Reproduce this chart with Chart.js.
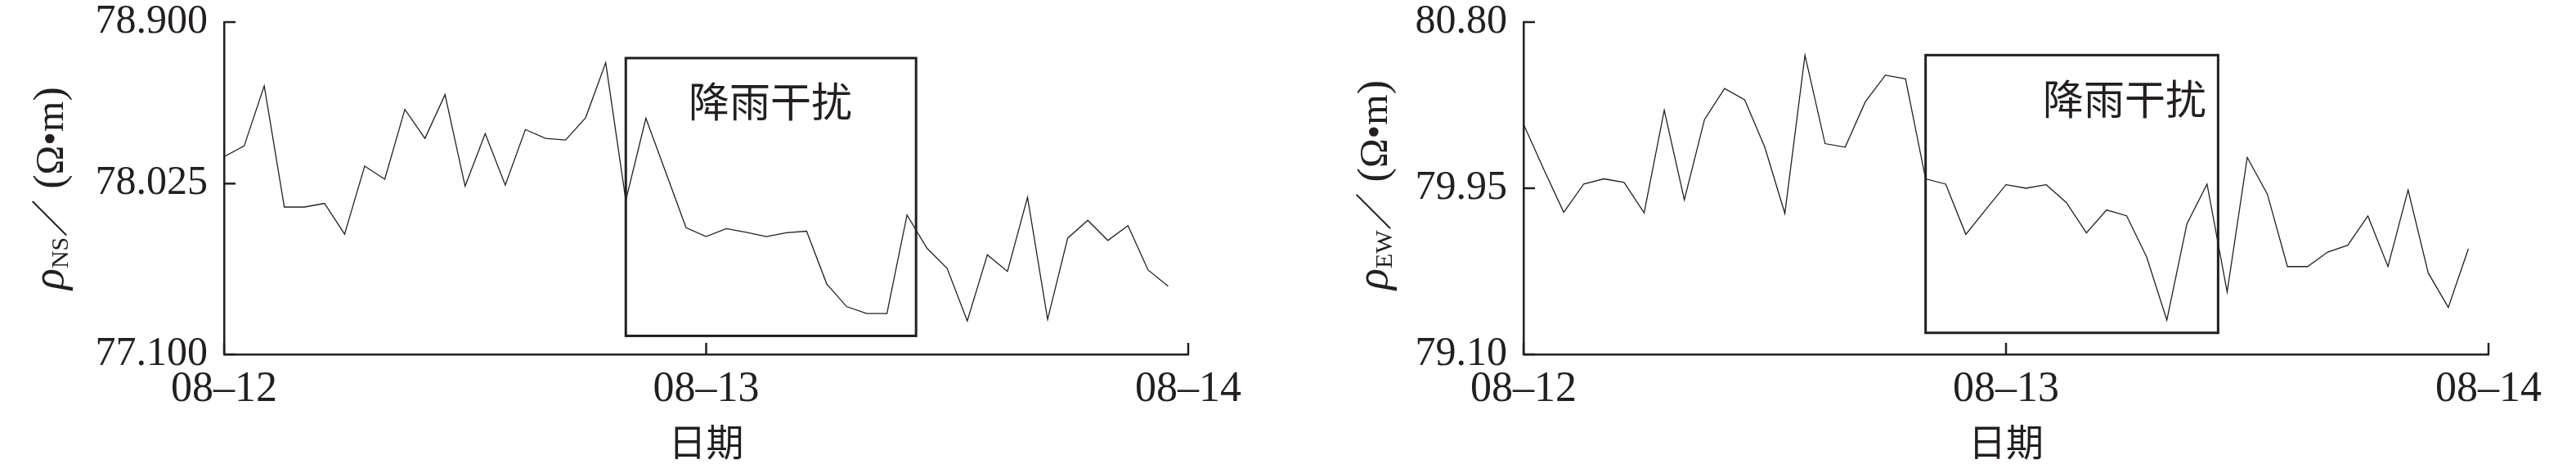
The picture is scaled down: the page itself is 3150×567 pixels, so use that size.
<!DOCTYPE html>
<html><head><meta charset="utf-8">
<script src="https://cdn.jsdelivr.net/npm/chart.js@4.4.0/dist/chart.umd.min.js"></script>
<style>
html,body{margin:0;padding:0;background:#fff;}
#wrap{position:relative;width:3150px;height:567px;background:#fff;}
.c{position:absolute;top:0;width:1575px;height:567px;}
</style></head><body>
<div id="wrap">
<div class="c" style="left:0"><canvas id="ns" width="1575" height="567"></canvas></div>
<div class="c" style="left:1575px"><canvas id="ew" width="1575" height="567"></canvas></div>
</div>
<script>
// ---- data ----
const hours = [0,1,2,3,4,5,6,7,8,9,10,11,12,13,14,15,16,17,18,19,20,21,22,23,24,25,26,27,28,29,30,31,32,33,34,35,36,37,38,39,40,41,42,43,44,45,46,47];
const xTickHours = [0, 24, 48];
const xTickLabels = ['08\u201312', '08\u201313', '08\u201314'];
const xTitle = '日期';

const nsValues = [78.171, 78.229, 78.555, 77.898, 77.898, 77.918, 77.751, 78.120, 78.049, 78.427, 78.270, 78.507, 78.011, 78.296, 78.017, 78.318, 78.270, 78.261, 78.382, 78.680, 77.934, 78.379, 78.083, 77.786, 77.738, 77.781, 77.761, 77.738, 77.759, 77.767, 77.482, 77.358, 77.321, 77.321, 77.855, 77.674, 77.565, 77.281, 77.639, 77.549, 77.951, 77.289, 77.730, 77.826, 77.717, 77.797, 77.557, 77.469];
const ewValues = [80.278, 80.048, 79.827, 79.972, 79.998, 79.980, 79.824, 80.349, 79.891, 80.301, 80.460, 80.402, 80.160, 79.821, 80.631, 80.178, 80.160, 80.392, 80.528, 80.510, 79.998, 79.971, 79.714, 79.842, 79.968, 79.950, 79.968, 79.877, 79.721, 79.839, 79.809, 79.597, 79.275, 79.768, 79.971, 79.419, 80.107, 79.920, 79.549, 79.549, 79.623, 79.658, 79.808, 79.549, 79.941, 79.517, 79.340, 79.640];

const nsTickValues = [77.100, 78.025, 78.900];
const nsTickLabels = ['77.100', '78.025', '78.900'];
const ewTickValues = [79.10, 79.95, 80.80];
const ewTickLabels = ['79.10', '79.95', '80.80'];

const rainLabel = '降雨干扰';
// rain-interference window (hours / resistivity)
const nsRain = {start: 20, end: 34.45, low: 77.200, high: 78.705, labelHour: 27.2, labelValue: 78.47};
const ewRain = {start: 20, end: 34.55, low: 79.210, high: 80.631, labelHour: 29.9, labelValue: 80.407};

const INK = '#231f20';
const SERIF = '"Liberation Serif", "DejaVu Serif", serif';
const CJK = '"Noto Sans CJK SC", sans-serif';

function overlay(rain, sub, titleX, titleBottom) {
  return {
    id: 'overlay',
    afterDatasetsDraw(chart) {
      const {ctx, chartArea: ca, scales: {x, y}} = chart;
      ctx.save();
      ctx.strokeStyle = INK;
      ctx.fillStyle = INK;
      ctx.lineWidth = 2.5;
      ctx.lineCap = 'butt';
      // inward ticks
      y.ticks.forEach(t => {
        const py = y.getPixelForValue(t.value);
        ctx.beginPath(); ctx.moveTo(ca.left, py); ctx.lineTo(ca.left + 14, py); ctx.stroke();
      });
      x.ticks.forEach(t => {
        const px = x.getPixelForValue(t.value);
        ctx.beginPath(); ctx.moveTo(px, ca.bottom); ctx.lineTo(px, ca.bottom - 14); ctx.stroke();
      });
      // rain box
      ctx.lineWidth = 3;
      const x0 = x.getPixelForValue(rain.start), x1 = x.getPixelForValue(rain.end);
      const y0 = y.getPixelForValue(rain.high), y1 = y.getPixelForValue(rain.low);
      ctx.strokeRect(x0, y0, x1 - x0, y1 - y0);
      // rain label
      ctx.font = '50px ' + CJK;
      ctx.textAlign = 'center';
      ctx.textBaseline = 'middle';
      ctx.fillText(rainLabel, x.getPixelForValue(rain.labelHour), y.getPixelForValue(rain.labelValue));
      // y title (rotated, reading bottom to top)
      const parts = [
        {t: 'ρ', f: 'italic 54px ' + SERIF, dy: 0},
        {t: sub, f: '30px ' + SERIF, dy: 6},
        {t: '／', f: '46px ' + CJK, dy: 0},
        {t: ' (', f: '52px ' + SERIF, dy: 0},
        {t: 'Ω•m', f: '48px ' + SERIF, dy: 0},
        {t: ')', f: '52px ' + SERIF, dy: 0}
      ];
      ctx.translate(titleX, titleBottom);
      ctx.rotate(-Math.PI / 2);
      ctx.textAlign = 'left';
      ctx.textBaseline = 'alphabetic';
      let cx = 0;
      parts.forEach(p => { ctx.font = p.f; ctx.fillText(p.t, cx, p.dy); cx += ctx.measureText(p.t).width; });
      ctx.restore();
    }
  };
}

function makeChart(id, values, tickValues, tickLabels, rain, sub, yAxisWidth, padRight, titleX) {
  const points = hours.map((h, i) => ({x: h, y: values[i]}));
  return new Chart(document.getElementById(id), {
    type: 'line',
    data: {datasets: [{data: points, borderColor: INK, borderWidth: 1.3, pointRadius: 0, tension: 0, fill: false}]},
    options: {
      responsive: false,
      animation: false,
      devicePixelRatio: 1,
      layout: {padding: {left: 0, right: padRight, top: 27, bottom: 0}},
      plugins: {legend: {display: false}, tooltip: {enabled: false}},
      scales: {
        x: {
          type: 'linear', min: xTickHours[0], max: xTickHours[xTickHours.length - 1],
          afterBuildTicks: s => { s.ticks = xTickHours.map(v => ({value: v})); },
          afterFit: s => { s.height = 134; s.paddingLeft = 0; s.paddingRight = 0; },
          grid: {display: false, drawTicks: false},
          border: {display: true, color: INK, width: 2.5},
          ticks: {color: INK, padding: 12, maxRotation: 0, autoSkip: false,
                  font: {family: SERIF, size: 52, lineHeight: 1.2},
                  callback: (v, i) => xTickLabels[i]},
          title: {display: true, text: xTitle, color: INK, font: {family: CJK, size: 46, lineHeight: 1.2}, padding: {top: 0, bottom: 0}}
        },
        y: {
          type: 'linear', min: tickValues[0], max: tickValues[tickValues.length - 1],
          afterBuildTicks: s => { s.ticks = tickValues.map(v => ({value: v})); },
          afterFit: s => { s.width = yAxisWidth; s.paddingTop = 0; s.paddingBottom = 0; },
          grid: {display: false, drawTicks: false},
          border: {display: true, color: INK, width: 2.5},
          ticks: {color: INK, padding: 20, autoSkip: false,
                  font: {family: SERIF, size: 50, lineHeight: 1.0},
                  callback: (v, i) => tickLabels[i]}
        }
      }
    },
    plugins: [overlay(rain, sub, titleX, 354)]
  });
}

makeChart('ns', nsValues, nsTickValues, nsTickLabels, nsRain, 'NS', 274, 122, 77);
makeChart('ew', ewValues, ewTickValues, ewTickLabels, ewRain, 'EW', 288, 107, 121);
</script>
</body></html>
